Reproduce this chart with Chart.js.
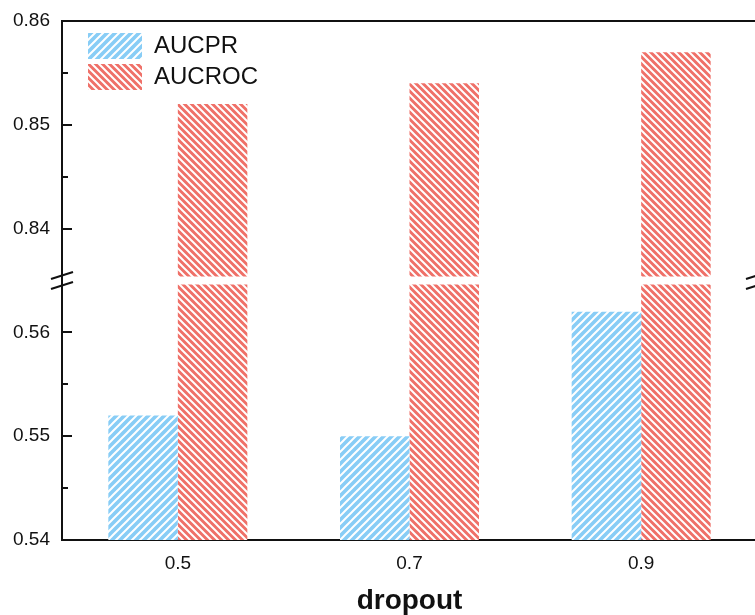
<!DOCTYPE html>
<html>
<head>
<meta charset="utf-8">
<script src="https://cdn.jsdelivr.net/npm/chart.js@4"></script>
<style>
    html, body { margin: 0; padding: 0; overflow: hidden; background: #fff; }
    #wrap { width: 770px; height: 615px; }
</style>
</head>
<body>
<div id="wrap"><canvas id="dropoutChart" width="770" height="615"></canvas></div>
<script>
// --- Data ---
const dropoutRates = ['0.5', '0.7', '0.9'];
const aucprValues = [0.552, 0.550, 0.562];
const aucrocValues = [0.852, 0.854, 0.857];

// broken y axis: lower and upper segments
const lowerRange = [0.54, 0.565];
const upperRange = [0.835, 0.86];
const tickStep = 0.005;

const FONT = '"Liberation Sans", Arial, sans-serif';
const INK = '#111';

/**
 * Builds a diagonal hatch pattern (white lines on a colour)
 */
function makeHatch(color, size, rising) {
    const c = document.createElement('canvas');
    c.width = c.height = size;
    const g = c.getContext('2d');
    g.fillStyle = color;
    g.fillRect(0, 0, size, size);
    g.strokeStyle = '#fff';
    g.lineWidth = 2;
    g.beginPath();
    const h = size / 2;
    if (rising) {
        g.moveTo(0, size); g.lineTo(size, 0);
        g.moveTo(-h, h); g.lineTo(h, -h);
        g.moveTo(h, size + h); g.lineTo(size + h, h);
    } else {
        g.moveTo(0, 0); g.lineTo(size, size);
        g.moveTo(-h, h); g.lineTo(h, size + h);
        g.moveTo(h, -h); g.lineTo(size + h, h);
    }
    g.stroke();
    return g.createPattern(c, 'repeat');
}

const bluePattern = makeHatch('#88cdf6', 8, true);
const redPattern = makeHatch('#ef7068', 7, false);

const isMajor = v => Math.abs(v * 100 - Math.round(v * 100)) < 1e-6;

// inward ticks, top border and axis break marks
const framePlugin = {
    id: 'frame',
    afterLayout(chart) {
        // nudge the legend into place inside the plot
        chart.legend.left = chart.chartArea.left + 21;
        chart.legend.top = chart.chartArea.top + 7;
    },
    afterDraw(chart) {
        const { ctx, chartArea: a } = chart;
        ctx.save();
        ctx.strokeStyle = INK;
        ctx.lineWidth = 2;

        ctx.beginPath();
        ctx.moveTo(a.left - 1, a.top);
        ctx.lineTo(a.right, a.top);
        ctx.moveTo(a.right, a.top);
        ctx.lineTo(a.right, a.bottom);
        ctx.stroke();

        ['y', 'y2'].forEach(id => {
            const s = chart.scales[id];
            s.ticks.forEach(t => {
                if (t.value <= s.min + 1e-9 || t.value >= s.max - 1e-9) return;
                const py = Math.round(s.getPixelForValue(t.value));
                const len = isMajor(t.value) ? 10 : 6;
                ctx.beginPath();
                ctx.moveTo(a.left, py);
                ctx.lineTo(a.left + len, py);
                ctx.stroke();
            });
        });

        const yb = chart.scales.y2.bottom;
        [a.left, a.right].forEach(x => {
            [-5, 5].forEach(off => {
                ctx.beginPath();
                ctx.moveTo(x - 11, yb + off + 3.5);
                ctx.lineTo(x + 11, yb + off - 3.5);
                ctx.stroke();
            });
        });
        ctx.restore();
    }
};

const yCommon = {
    type: 'linear',
    position: 'left',
    stack: 'broken',
    stackWeight: 1,
    stacked: false,
    grid: { display: false, drawTicks: false },
    border: { display: true, color: INK, width: 2 },
    ticks: {
        stepSize: tickStep,
        autoSkip: false,
        includeBounds: false,
        padding: 12,
        color: INK,
        font: { family: FONT, size: 19 },
        callback: v => isMajor(v) ? v.toFixed(2) : ''
    },
    afterFit: scale => {
        scale.width = 62;
        scale.paddingTop = 0;
        scale.paddingBottom = 0;
    }
};

new Chart(document.getElementById('dropoutChart'), {
    type: 'bar',
    data: {
        labels: dropoutRates,
        datasets: [
            {
                label: 'AUCPR',
                data: aucprValues,
                yAxisID: 'y',
                stack: 'pr',
                backgroundColor: bluePattern,
                borderWidth: 0,
                clip: 0
            },
            {
                label: 'AUCROC',
                data: aucrocValues,
                yAxisID: 'y2',
                stack: 'roc',
                backgroundColor: redPattern,
                borderWidth: 0,
                clip: { left: 0, right: 0, top: 0, bottom: -4 }
            },
            {
                // lower part of the broken AUCROC bars
                label: 'AUCROC',
                data: aucrocValues,
                yAxisID: 'y',
                stack: 'roc',
                backgroundColor: redPattern,
                borderWidth: 0,
                clip: { left: 0, right: 0, top: -4, bottom: 0 }
            }
        ]
    },
    options: {
        responsive: false,
        devicePixelRatio: 1,
        animation: false,
        categoryPercentage: 0.6,
        barPercentage: 1.0,
        layout: { padding: { top: 21, right: 13, left: 0, bottom: 0 } },
        plugins: {
            legend: {
                position: 'chartArea',
                align: 'start',
                labels: {
                    boxWidth: 54,
                    boxHeight: 26,
                    padding: 5,
                    color: INK,
                    font: { family: FONT, size: 24 },
                    filter: item => item.datasetIndex < 2
                }
            },
            tooltip: { enabled: false }
        },
        scales: {
            x: {
                grid: { display: false, drawTicks: false },
                border: { display: true, color: INK, width: 2 },
                ticks: {
                    padding: 12,
                    color: INK,
                    font: { family: FONT, size: 19 }
                },
                title: {
                    display: true,
                    text: 'dropout',
                    color: INK,
                    padding: { top: 0, bottom: -3 },
                    font: { family: FONT, size: 28, weight: 'bold' }
                },
                afterFit: scale => { scale.height = 75; }
            },
            y: Object.assign({}, yCommon, { min: lowerRange[0], max: lowerRange[1] }),
            y2: Object.assign({}, yCommon, { min: upperRange[0], max: upperRange[1] })
        }
    },
    plugins: [framePlugin]
});
</script>
</body>
</html>
